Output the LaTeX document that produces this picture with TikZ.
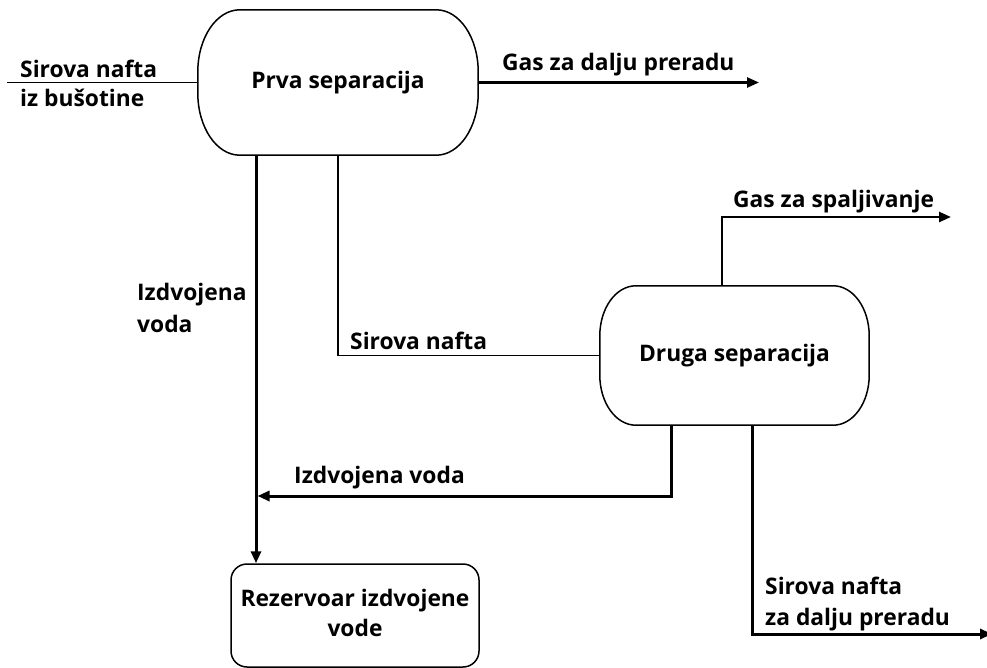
\documentclass[tikz,border=0pt]{standalone}
\usepackage{fontspec}
\setmainfont{Open Sans}
\usetikzlibrary{arrows.meta}
\newcommand\vesselpath[3]{%
  \draw[outl] ([xshift=#2]#1.north west) -- ([xshift=-#2]#1.north east)
    arc[start angle=90,end angle=0,x radius=#2,y radius=#3]
    -- ([yshift=#3]#1.south east)
    arc[start angle=0,end angle=-90,x radius=#2,y radius=#3]
    -- ([xshift=#2]#1.south west)
    arc[start angle=270,end angle=180,x radius=#2,y radius=#3]
    -- ([yshift=-#3]#1.north west)
    arc[start angle=180,end angle=90,x radius=#2,y radius=#3] -- cycle;}
\begin{document}
\begin{tikzpicture}[x=1pt,y=-1pt,
  txt/.style={font=\bfseries\fontsize{22.8}{30}\selectfont},
  lbl/.style={txt,anchor=base west,inner sep=0},
  vessel/.style={txt,draw=none,inner sep=0,align=center},
  outl/.style={line width=1.5pt},
  thinl/.style={line width=1.6pt},
  medl/.style={line width=2.4pt},
  thickl/.style={line width=3pt},
  arr/.style={-{Triangle[length=12pt,width=10pt]}},
  ]
\useasboundingbox (0,0) rectangle (987,668);
% nodes
\node[vessel,minimum width=280pt,minimum height=145pt] (p1) at (338,82.5) {Prva separacija};
\vesselpath{p1}{42pt}{62pt}
\node[vessel,minimum width=269pt,minimum height=139pt] (d2) at (734.5,355.5) {Druga separacija};
\vesselpath{d2}{36pt}{50pt}
\node[txt,draw,line width=1.5pt,rounded corners=16pt,minimum width=248pt,minimum height=103pt,inner sep=0,align=center,text depth=6pt] (rz) at (355,615.5) {Rezervoar izdvojene\\vode};
% ports
\coordinate (in) at (7,82.5);
\coordinate (g1) at (759,82.5);
\coordinate (p1b) at ([xshift=-82pt]p1.south);
\coordinate (d2t) at ([xshift=-12.5pt]d2.north);
\coordinate (g2) at (951,217);
\coordinate (d2b1) at ([xshift=-63.5pt]d2.south);
\coordinate (d2b2) at ([xshift=17.5pt]d2.south);
\coordinate (wj) at (257.5,496);
\coordinate (out) at (992,634);
% connectors
\draw[thinl] (in) -- (p1.west);
\draw[medl,arr] (p1.east) -- (g1);
\draw[thickl,arr] (p1b) -- (p1b |- rz.north);
\draw[thinl] (p1.south) -- (p1.south |- d2.west) -- (d2.west);
\draw[medl,arr] (d2t) -- (d2t |- g2) -- (g2);
\draw[thickl,arr] (d2b1) -- (d2b1 |- wj) -- (wj);
\draw[thickl,arr] (d2b2) -- (d2b2 |- out) -- (out);
% labels
\node[lbl] (l1a) at (20,78) {Sirova nafta};
\node[lbl] (l1b) at (20,107) {iz bušotine};
\node[lbl] (l2) at (502,71) {Gas za dalju preradu};
\node[lbl] (l3a) at (137,300) {Izdvojena};
\node[lbl] (l3b) at (137,332) {voda};
\node[lbl] (l4) at (350,349) {Sirova nafta};
\node[lbl] (l5) at (733,208) {Gas za spaljivanje};
\node[lbl] (l6) at (294,483) {Izdvojena voda};
\node[lbl] (l7a) at (765,594) {Sirova nafta};
\node[lbl] (l7b) at (765,625) {za dalju preradu};
\end{tikzpicture}
\end{document}
